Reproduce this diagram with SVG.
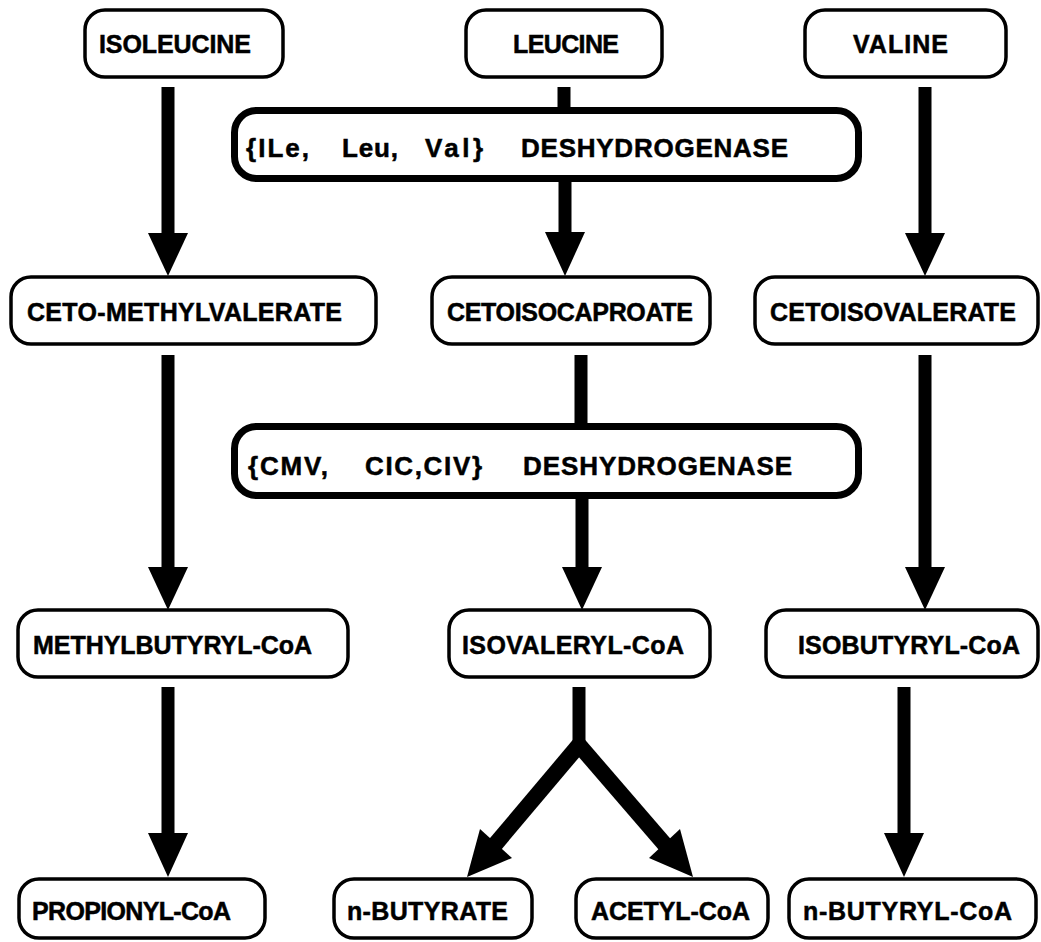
<svg xmlns="http://www.w3.org/2000/svg" width="1041" height="942" viewBox="0 0 1041 942">
  <style>
    .box { fill: #fff; stroke: #000; stroke-width: 3.5; }
    .enz { fill: #fff; stroke: #000; stroke-width: 7; }
    .lbl { font-family: "Liberation Sans", Arial, sans-serif; font-weight: bold; font-size: 25px; fill: #000; stroke: #000; stroke-width: 0.5; }
    .elbl { font-family: "Liberation Sans", Arial, sans-serif; font-weight: bold; font-size: 26px; fill: #000; stroke: #000; stroke-width: 0.5; }
    .shaft { stroke: #000; stroke-width: 13; fill: none; stroke-linecap: butt; }
    .arm { stroke: #000; stroke-width: 16; fill: none; stroke-linecap: butt; }
    .head { fill: #000; stroke: none; }
  </style>
  <rect width="1041" height="942" fill="#fff"/>

  <!-- connectors -->
  <g id="connectors">
    <!-- isoleucine branch -->
    <line class="shaft" x1="168" y1="87" x2="168" y2="236"/>
    <polygon class="head" points="148,233 188,233 168,276"/>
    <line class="shaft" x1="168" y1="355" x2="168" y2="570"/>
    <polygon class="head" points="148,567 188,567 168,610"/>
    <line class="shaft" x1="168" y1="687" x2="168" y2="836"/>
    <polygon class="head" points="148,833 188,833 168,877"/>

    <!-- leucine branch -->
    <line class="shaft" x1="564" y1="87" x2="564" y2="112"/>
    <line class="shaft" x1="565" y1="180" x2="565" y2="236"/>
    <polygon class="head" points="545,232 585,232 565,276"/>
    <line class="shaft" x1="581" y1="355" x2="581" y2="428"/>
    <line class="shaft" x1="582" y1="496" x2="582" y2="570"/>
    <polygon class="head" points="562,567 602,567 582,610"/>

    <!-- isovaleryl-CoA fork -->
    <line class="shaft" x1="579" y1="687" x2="579" y2="748"/>
    <line class="arm" x1="579" y1="745" x2="493" y2="847"/>
    <polygon class="head" points="480,829 512,858 467,877"/>
    <line class="arm" x1="579" y1="745" x2="667" y2="847"/>
    <polygon class="head" points="680,829 649,858 693,877"/>

    <!-- valine branch -->
    <line class="shaft" x1="925" y1="87" x2="925" y2="236"/>
    <polygon class="head" points="905,233 945,233 925,276"/>
    <line class="shaft" x1="925" y1="355" x2="925" y2="570"/>
    <polygon class="head" points="905,567 945,567 925,610"/>
    <line class="shaft" x1="904" y1="687" x2="904" y2="836"/>
    <polygon class="head" points="884,833 924,833 904,877"/>
  </g>

  <!-- amino acids -->
  <g id="isoleucine">
    <rect class="box" x="85" y="10" width="198" height="67" rx="20"/>
    <text class="lbl" x="99" y="53" textLength="152" lengthAdjust="spacing">ISOLEUCINE</text>
  </g>
  <g id="leucine">
    <rect class="box" x="466" y="10" width="196" height="67" rx="20"/>
    <text class="lbl" x="513" y="53" textLength="106" lengthAdjust="spacing">LEUCINE</text>
  </g>
  <g id="valine">
    <rect class="box" x="805" y="10" width="201" height="67" rx="20"/>
    <text class="lbl" x="853" y="53" textLength="95" lengthAdjust="spacing">VALINE</text>
  </g>

  <!-- first dehydrogenase -->
  <g id="enzyme-1">
    <rect class="enz" x="234.5" y="110.5" width="624" height="68" rx="22"/>
    <text class="elbl" x="246" y="157" textLength="63" lengthAdjust="spacing">{ILe,</text>
    <text class="elbl" x="342" y="157" textLength="56" lengthAdjust="spacing">Leu,</text>
    <text class="elbl" x="425" y="157" textLength="58" lengthAdjust="spacing">Val}</text>
    <text class="elbl" x="521" y="157" textLength="267" lengthAdjust="spacing">DESHYDROGENASE</text>
  </g>

  <!-- keto acids -->
  <g id="ceto-methylvalerate">
    <rect class="box" x="11" y="277" width="365" height="67" rx="20"/>
    <text class="lbl" x="27" y="321" textLength="315" lengthAdjust="spacing">CETO-METHYLVALERATE</text>
  </g>
  <g id="cetoisocaproate">
    <rect class="box" x="432" y="277" width="278" height="67" rx="20"/>
    <text class="lbl" x="447" y="321" textLength="246" lengthAdjust="spacing">CETOISOCAPROATE</text>
  </g>
  <g id="cetoisovalerate">
    <rect class="box" x="755" y="277" width="283" height="67" rx="20"/>
    <text class="lbl" x="770" y="321" textLength="246" lengthAdjust="spacing">CETOISOVALERATE</text>
  </g>

  <!-- second dehydrogenase -->
  <g id="enzyme-2">
    <rect class="enz" x="234.5" y="426.5" width="624" height="69" rx="22"/>
    <text class="elbl" x="248" y="475" textLength="80" lengthAdjust="spacing">{CMV,</text>
    <text class="elbl" x="365" y="475" textLength="117" lengthAdjust="spacing">CIC,CIV}</text>
    <text class="elbl" x="523" y="475" textLength="269" lengthAdjust="spacing">DESHYDROGENASE</text>
  </g>

  <!-- acyl-CoA -->
  <g id="methylbutyryl-coa">
    <rect class="box" x="18" y="610" width="330" height="67" rx="20"/>
    <text class="lbl" x="33" y="654" textLength="279" lengthAdjust="spacing">METHYLBUTYRYL-CoA</text>
  </g>
  <g id="isovaleryl-coa">
    <rect class="box" x="449" y="610" width="261" height="67" rx="20"/>
    <text class="lbl" x="462" y="654" textLength="222" lengthAdjust="spacing">ISOVALERYL-CoA</text>
  </g>
  <g id="isobutyryl-coa">
    <rect class="box" x="766" y="610" width="272" height="67" rx="20"/>
    <text class="lbl" x="798" y="654" textLength="222" lengthAdjust="spacing">ISOBUTYRYL-CoA</text>
  </g>

  <!-- end products -->
  <g id="propionyl-coa">
    <rect class="box" x="19" y="879" width="246" height="59" rx="20"/>
    <text class="lbl" x="32" y="920" textLength="199" lengthAdjust="spacing">PROPIONYL-CoA</text>
  </g>
  <g id="n-butyrate">
    <rect class="box" x="334" y="879" width="198" height="59" rx="20"/>
    <text class="lbl" x="347" y="920" textLength="161" lengthAdjust="spacing">n-BUTYRATE</text>
  </g>
  <g id="acetyl-coa">
    <rect class="box" x="576" y="879" width="192" height="59" rx="20"/>
    <text class="lbl" x="591" y="920" textLength="159" lengthAdjust="spacing">ACETYL-CoA</text>
  </g>
  <g id="n-butyryl-coa">
    <rect class="box" x="789" y="879" width="247" height="59" rx="20"/>
    <text class="lbl" x="803" y="920" textLength="209" lengthAdjust="spacing">n-BUTYRYL-CoA</text>
  </g>
</svg>
